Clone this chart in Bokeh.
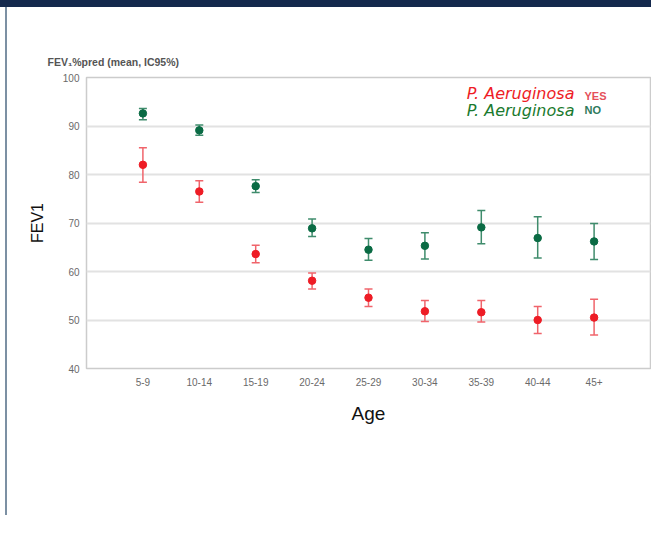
from bokeh.plotting import figure
from bokeh.models import Range1d, FixedTicker, Whisker, TeeHead, ColumnDataSource, Label, Title
from bokeh.embed import file_html
from bokeh.resources import INLINE

categories = ["5-9", "10-14", "15-19", "20-24", "25-29", "30-34", "35-39", "40-44", "45+"]
yes_mean = [82.0, 76.5, 63.6, 58.1, 54.6, 51.8, 51.6, 50.0, 50.5]
yes_low = [78.4, 74.3, 61.8, 56.4, 52.8, 49.7, 49.6, 47.2, 46.9]
yes_high = [85.5, 78.7, 65.4, 59.7, 56.4, 54.0, 54.0, 52.8, 54.3]
no_mean = [92.6, 89.1, 77.6, 68.9, 64.5, 65.3, 69.1, 66.9, 66.2]
no_low = [91.3, 88.1, 76.3, 67.2, 62.3, 62.6, 65.7, 62.8, 62.5]
no_high = [93.6, 90.2, 78.9, 70.8, 66.8, 68.0, 72.6, 71.3, 69.9]
y_ticks = [40, 50, 60, 70, 80, 90, 100]

xs = list(range(1, len(categories) + 1))

FONT = "Liberation Sans"

p = figure(width=651, height=515, x_range=Range1d(0, 10), y_range=Range1d(40, 100),
           output_backend="svg", toolbar_location=None,
           min_border_left=86, min_border_right=1, min_border_top=70, min_border_bottom=154,
           background_fill_color="white", border_fill_alpha=0)
p.styles = {
    "border-top": "7px solid #14294d",
    "background": "linear-gradient(to right, #ffffff 5px, #7c90a3 5px, #7c90a3 7px, #ffffff 7px)",
}

p.title.text = "FEV\u2081%pred (mean, IC95%)"
p.title.align = "left"
p.title.offset = -39
p.title.text_font = FONT
p.title.text_font_size = "10.5px"
p.title.text_font_style = "bold"
p.title.text_color = "#555555"

spacer = Title(text=" ", text_font_size="3px", standoff=0)
p.above.insert(0, spacer)

p.outline_line_color = "#cccccc"
p.outline_line_width = 1.5
p.xgrid.grid_line_color = None
p.ygrid.grid_line_color = "#e2e2e2"
p.ygrid.grid_line_width = 2
p.ygrid.ticker = FixedTicker(ticks=y_ticks)

p.xaxis.ticker = FixedTicker(ticks=xs)
p.xaxis.major_label_overrides = {x: c for x, c in zip(xs, categories)}
p.yaxis.ticker = FixedTicker(ticks=y_ticks)
for ax in (p.xaxis[0], p.yaxis[0]):
    ax.axis_line_color = None
    ax.major_tick_line_color = None
    ax.minor_tick_line_color = None
    ax.major_tick_out = 0
    ax.major_tick_in = 0
    ax.minor_tick_out = 0
    ax.minor_tick_in = 0
    ax.major_label_text_font = FONT
    ax.major_label_text_font_size = "10px"
    ax.major_label_text_color = "#6a6a6a"
    ax.axis_label_text_font = FONT
    ax.axis_label_text_font_style = "normal"
    ax.axis_label_text_color = "#111111"

p.xaxis.major_label_standoff = 9
p.yaxis.major_label_standoff = 7
p.xaxis.axis_label = "Age"
p.xaxis.axis_label_text_font_size = "19px"
p.xaxis.axis_label_standoff = 14
p.yaxis.axis_label = "FEV1"
p.yaxis.axis_label_text_font_size = "16px"
p.yaxis.axis_label_standoff = 14

src_yes = ColumnDataSource(dict(x=xs, m=yes_mean, lo=yes_low, hi=yes_high))
src_no = ColumnDataSource(dict(x=xs, m=no_mean, lo=no_low, hi=no_high))

for src, lc in ((src_yes, "#f0646b"), (src_no, "#3f8c6c")):
    w = Whisker(source=src, base="x", upper="hi", lower="lo", line_color=lc, line_width=1.5,
                upper_head=TeeHead(size=8, line_color=lc, line_width=1.5),
                lower_head=TeeHead(size=8, line_color=lc, line_width=1.5))
    p.add_layout(w)

p.scatter("x", "m", source=src_yes, size=7.5, color="#ee1c25")
p.scatter("x", "m", source=src_no, size=7.5, color="#0a6b44")

p.add_layout(Label(x=6.74, y=96.7, text="P. Aeruginosa", text_font="DejaVu Sans",
                   text_font_style="italic", text_font_size="16px", text_color="#ee1c25",
                   text_baseline="middle"))
p.add_layout(Label(x=8.83, y=96.2, text="YES", text_font=FONT, text_font_size="11px",
                   text_font_style="bold", text_color="#e5505a", text_baseline="middle"))
p.add_layout(Label(x=6.74, y=93.2, text="P. Aeruginosa", text_font="DejaVu Sans",
                   text_font_style="italic", text_font_size="16px", text_color="#1a7a2e",
                   text_baseline="middle"))
p.add_layout(Label(x=8.83, y=93.2, text="NO", text_font=FONT, text_font_size="11px",
                   text_font_style="bold", text_color="#2e7a5c", text_baseline="middle"))

open("out.html", "w").write(file_html(p, INLINE))
